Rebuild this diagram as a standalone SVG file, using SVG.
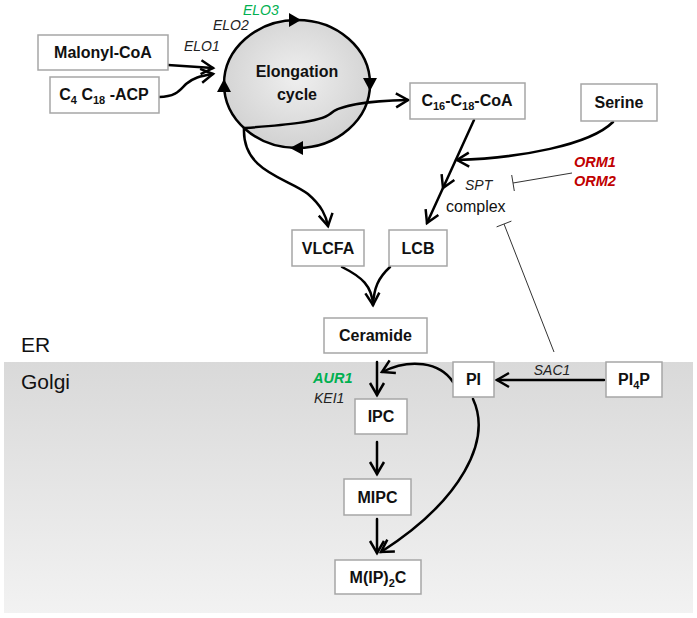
<svg xmlns="http://www.w3.org/2000/svg" width="697" height="618" viewBox="0 0 697 618">
<style>
.box{fill:#fff;stroke:#a6a6a6;stroke-width:1.5}
.lbl{font-family:"Liberation Sans",Arial,sans-serif;font-weight:bold;font-size:16px;fill:#111;text-anchor:middle}
.sub{font-size:11px}
.it{font-family:"Liberation Sans",Arial,sans-serif;font-style:italic;fill:#222}
.arr{fill:none;stroke:#000;stroke-width:2.5;stroke-linecap:round}
.inh{fill:none;stroke:#333;stroke-width:1}
</style>
<defs>
<linearGradient id="golgi" x1="0" y1="0" x2="0" y2="1">
<stop offset="0" stop-color="#d9d9d9"/>
<stop offset="1" stop-color="#f2f2f2"/>
</linearGradient>
<radialGradient id="cyc" cx="0.5" cy="0.45" r="0.55">
<stop offset="0" stop-color="#efefef"/>
<stop offset="1" stop-color="#d2d2d2"/>
</radialGradient>
<marker id="chev" markerUnits="userSpaceOnUse" markerWidth="18" markerHeight="18" viewBox="0 0 18 18" refX="15" refY="9" orient="auto">
<path d="M3,2 L15,9 L3,16" fill="none" stroke="#000" stroke-width="2.5" stroke-linejoin="miter"/>
</marker>
</defs>

<rect x="4" y="362" width="689" height="251" fill="url(#golgi)"/>
<text x="21" y="352" font-family="'Liberation Sans',Arial,sans-serif" font-size="21" fill="#111">ER</text>
<text x="21" y="389" font-family="'Liberation Sans',Arial,sans-serif" font-size="21" fill="#111">Golgi</text>

<g id="elongation">
<ellipse cx="297" cy="84" rx="73" ry="64" fill="url(#cyc)" stroke="#000" stroke-width="2.5"/>
<polygon points="289,13 301,20 289,27"/>
<polygon points="363,78 377,78 370,91"/>
<polygon points="303,141 303,155 290,148"/>
<polygon points="217,92 231,92 224,79"/>
<text class="lbl" x="297" y="77">Elongation</text>
<text class="lbl" x="297" y="100">cycle</text>
</g>

<g id="connectors">
<path class="arr" d="M168,65 L213,68" marker-end="url(#chev)"/>
<path class="arr" d="M159,97 C176,97 180,90 186,84 C193,78 200,76 213,74" marker-end="url(#chev)"/>
<path class="arr" d="M245,128 C285,125 320,122 330,114 C340,104 370,101 408,100" marker-end="url(#chev)"/>
<path class="arr" d="M244,128 C242,172 288,178 308,194 C322,206 326,216 328,226" marker-end="url(#chev)"/>
<path class="arr" d="M474,120 L443,188 L427,223" stroke-width="3.5" marker-mid="url(#chev)" marker-end="url(#chev)"/>
<path class="arr" d="M613,122 C590,145 520,158 457,160" marker-end="url(#chev)"/>
<path class="arr" d="M342,267 C362,277 372,286 373,305" marker-end="url(#chev)"/>
<path class="arr" d="M390,267 C378,278 374,288 373,305"/>
<path class="arr" d="M377,362 L377,395" marker-end="url(#chev)"/>
<path class="arr" d="M453,382 C440,362 410,358 382,372" marker-end="url(#chev)"/>
<path class="arr" d="M604,380 L497,380" marker-end="url(#chev)"/>
<path class="arr" d="M473,399 C492,440 462,500 381,552" marker-end="url(#chev)"/>
<path class="arr" d="M377,442 L377,474" marker-end="url(#chev)"/>
<path class="arr" d="M377,519 L377,553" marker-end="url(#chev)"/>
<path class="inh" d="M572,173 L513,183 M511.7,175 L514.3,191"/>
<path class="inh" d="M554,352 L504,224 M496.6,226.9 L511.4,221.1"/>
</g>

<g id="elo-labels">
<text class="it" x="243" y="15" font-size="14" style="fill:#00b050">ELO3</text>
<text class="it" x="213" y="30" font-size="14">ELO2</text>
<text class="it" x="184" y="51" font-size="14">ELO1</text>
</g>

<g id="malonyl"><rect class="box" x="38" y="35" width="130" height="35"/><text class="lbl" x="103" y="58">Malonyl-CoA</text></g>
<g id="acp"><rect class="box" x="50" y="77" width="109" height="36"/><text class="lbl" x="104" y="100">C<tspan class="sub" dy="4">4</tspan><tspan dy="-4"> C</tspan><tspan class="sub" dy="4">18</tspan><tspan dy="-4"> -ACP</tspan></text></g>
<g id="c16coa"><rect class="box" x="410" y="83" width="115" height="36"/><text class="lbl" x="467" y="106">C<tspan class="sub" dy="4">16</tspan><tspan dy="-4">-C</tspan><tspan class="sub" dy="4">18</tspan><tspan dy="-4">-CoA</tspan></text></g>
<g id="serine"><rect class="box" x="581" y="84" width="76" height="37"/><text class="lbl" x="619" y="108">Serine</text></g>

<g id="spt">
<text class="it" x="465" y="190" font-size="14">SPT</text>
<text x="446" y="212" font-family="'Liberation Sans',Arial,sans-serif" font-size="16" fill="#111">complex</text>
</g>
<g id="orm">
<text class="it" x="574" y="167" font-size="14.5" font-weight="bold" style="fill:#c00000">ORM1</text>
<text class="it" x="574" y="186" font-size="14.5" font-weight="bold" style="fill:#c00000">ORM2</text>
</g>

<g id="vlcfa"><rect class="box" x="292" y="230" width="72" height="36"/><text class="lbl" x="328" y="254">VLCFA</text></g>
<g id="lcb"><rect class="box" x="389" y="230" width="58" height="36"/><text class="lbl" x="418" y="254">LCB</text></g>
<g id="ceramide"><rect class="box" x="324" y="318" width="103" height="35"/><text class="lbl" x="375.5" y="341">Ceramide</text></g>
<g id="pi"><rect class="box" x="453" y="362" width="41" height="35"/><text class="lbl" x="473.5" y="385">PI</text></g>
<g id="pi4p"><rect class="box" x="606" y="362" width="56" height="35"/><text class="lbl" x="634" y="385">PI<tspan class="sub" dy="4">4</tspan><tspan dy="-4">P</tspan></text></g>
<g id="enzymes">
<text class="it" x="552" y="375" font-size="14" text-anchor="middle">SAC1</text>
<text class="it" x="313" y="383" font-size="14.5" font-weight="bold" style="fill:#00b050">AUR1</text>
<text class="it" x="314" y="403" font-size="14">KEI1</text>
</g>
<g id="ipc"><rect class="box" x="355" y="399" width="52" height="35"/><text class="lbl" x="381" y="422">IPC</text></g>
<g id="mipc"><rect class="box" x="344" y="479" width="67" height="36"/><text class="lbl" x="377.5" y="503">MIPC</text></g>
<g id="mip2c"><rect class="box" x="335" y="560" width="86" height="34"/><text class="lbl" x="378" y="583">M(IP)<tspan class="sub" dy="4">2</tspan><tspan dy="-4">C</tspan></text></g>
</svg>
